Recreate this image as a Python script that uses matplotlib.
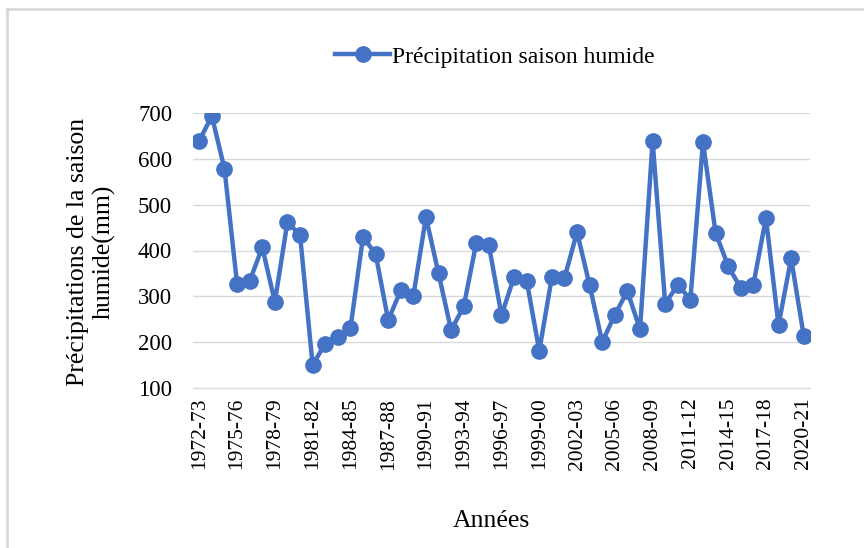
import numpy as np
import matplotlib.pyplot as plt
from matplotlib.lines import Line2D

# Saisons 1972-73 ... 2020-21
seasons = [f"{y}-{str(y + 1)[-2:]}" for y in range(1972, 2021)]
precip = [640, 693, 578, 327, 333, 407, 288, 462, 434, 150,
          197, 211, 230, 429, 393, 248, 313, 301, 473, 350,
          226, 278, 417, 411, 259, 342, 334, 181, 342, 340,
          440, 324, 200, 260, 311, 228, 639, 284, 325, 293,
          636, 439, 366, 318, 325, 471, 237, 383, 214]
yticks = [100, 200, 300, 400, 500, 600, 700]

blue = "#4472C4"
plt.rcParams["font.family"] = ["Liberation Serif", "DejaVu Serif"]

fig = plt.figure(figsize=(8.64, 5.48), dpi=100)
ax = fig.add_axes([193 / 864, 1 - 388 / 548, 617 / 864, 275 / 548])

x = np.arange(len(seasons))
ax.plot(x, precip, color=blue, linewidth=3.2, marker="o", markersize=11,
        label="Précipitation saison humide", zorder=3)

ax.set_xlim(-0.5, len(seasons) - 0.5)
ax.set_ylim(100, 700)
ax.set_yticks(yticks)
ax.set_xticks(x[::3])
ax.set_xticklabels(seasons[::3], rotation=90)
ax.tick_params(axis="both", length=0, colors="#000000")
ax.tick_params(axis="x", pad=7, labelsize=15.5)
ax.tick_params(axis="y", pad=15, labelsize=16.5)
ax.grid(axis="y", color="#d9d9d9", linewidth=1)
ax.set_axisbelow(True)
for s in ["top", "right", "left"]:
    ax.spines[s].set_visible(False)
ax.spines["bottom"].set_color("#d9d9d9")

fig.text(91 / 864, 1 - 252 / 548, "Précipitations de la saison\nhumide(mm)",
         fontsize=18.5, rotation=90, ha="center", va="center", linespacing=1.2,
         multialignment="center")
fig.text(491 / 864, 1 - 521 / 548, "Années", fontsize=18.5, ha="center", va="center")

handle = Line2D([], [], color=blue, linewidth=3.2, marker="o", markersize=11)
fig.legend([handle], ["Précipitation saison humide"], loc="center",
           bbox_to_anchor=(495 / 864, 1 - 57 / 548), frameon=False, fontsize=17,
           handlelength=2.3, handletextpad=0.1)

# chart border (top and left visible)
fig.add_artist(Line2D([7 / 864, 7 / 864], [0, 1 - 9 / 548], color="#d9d9d9",
                      linewidth=2, transform=fig.transFigure))
fig.add_artist(Line2D([7 / 864, 1], [1 - 9 / 548, 1 - 9 / 548], color="#d9d9d9",
                      linewidth=2, transform=fig.transFigure))

fig.savefig("out.png", dpi=100)
